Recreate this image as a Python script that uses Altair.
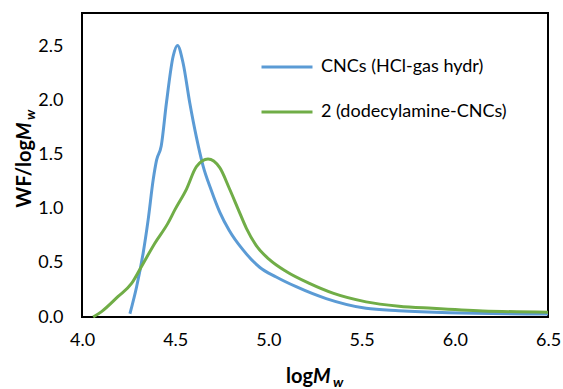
import altair as alt
import pandas as pd

# ---- data ----
series_names = ["CNCs (HCl-gas hydr)", "2 (dodecylamine-CNCs)"]
series_colors = ["#5B9BD5", "#70AD47"]

blue_x = [4.257, 4.293, 4.328, 4.355, 4.382, 4.400, 4.425, 4.453, 4.489, 4.512,
          4.542, 4.578, 4.614, 4.649, 4.694, 4.739, 4.790, 4.864, 4.953, 5.042,
          5.149, 5.310, 5.524, 5.700, 5.970, 6.500]
blue_y = [0.03, 0.28, 0.59, 0.90, 1.27, 1.45, 1.58, 1.98, 2.41, 2.51,
          2.35, 1.98, 1.66, 1.40, 1.17, 0.97, 0.80, 0.62, 0.46, 0.37,
          0.28, 0.17, 0.08, 0.058, 0.04, 0.028]

green_x = [4.060, 4.105, 4.194, 4.266, 4.320, 4.390, 4.462, 4.498, 4.560, 4.614,
           4.676, 4.739, 4.790, 4.837, 4.882, 4.935, 5.006, 5.096, 5.220, 5.346,
           5.524, 5.700, 5.880, 6.150, 6.500]
green_y = [0.00, 0.05, 0.19, 0.31, 0.47, 0.68, 0.87, 0.99, 1.18, 1.39,
           1.46, 1.38, 1.19, 1.00, 0.82, 0.66, 0.53, 0.42, 0.31, 0.22,
           0.14, 0.10, 0.08, 0.056, 0.045]

x_ticks = [4.0, 4.5, 5.0, 5.5, 6.0, 6.5]
y_ticks = [0.0, 0.5, 1.0, 1.5, 2.0, 2.5]

FONT = "Lato"

rows = []
for i, (xs, ys) in enumerate([(blue_x, blue_y), (green_x, green_y)]):
    for j, (a, b) in enumerate(zip(xs, ys)):
        rows.append({"series": series_names[i], "x": a, "y": b, "order": j})
df = pd.DataFrame(rows)

W, H = 466, 304

lines = alt.Chart(df).mark_line(strokeWidth=3, interpolate="monotone").encode(
    x=alt.X("x:Q", scale=alt.Scale(domain=[4.0, 6.5], nice=False),
            axis=alt.Axis(values=x_ticks, format=".1f", title=None, ticks=False,
                          grid=False, labelPadding=14, domain=False, labelFlush=False,
                          labelFontSize=18, labelFont=FONT, labelColor="#000")),
    y=alt.Y("y:Q", scale=alt.Scale(domain=[0, 2.81], nice=False, zero=True),
            axis=alt.Axis(values=y_ticks, format=".1f", title=None, ticks=False,
                          grid=False, labelPadding=19, domain=False, labelFlush=False,
                          labelFontSize=18, labelFont=FONT, labelColor="#000")),
    color=alt.Color("series:N",
                    scale=alt.Scale(domain=series_names, range=series_colors),
                    sort=series_names,
                    legend=alt.Legend(title=None, orient="none", legendX=178, legendY=27,
                                      symbolType="stroke", symbolSize=2600,
                                      symbolStrokeWidth=3, labelFontSize=18,
                                      labelFont=FONT, labelColor="#000", labelLimit=0,
                                      labelOffset=7, rowPadding=9, padding=0)),
    order="order:Q",
)

# composite axis titles (bold, italic M with subscript w)
xt_parts = ["log", "M", "w"]
yt_parts = ["WF/log", "M", "w"]

def txt(s, x, y, align, size, style, angle=0, baseline="alphabetic"):
    return alt.Chart(pd.DataFrame({"t": [s]})).mark_text(
        align=align, baseline=baseline, fontSize=size, font=FONT,
        fontWeight="bold", fontStyle=style, angle=angle, color="#000"
    ).encode(text="t:N", x=alt.value(x), y=alt.value(y))

titles = [
    txt(xt_parts[0], 231, 370, "right", 20, "normal"),
    txt(xt_parts[1], 231, 370, "left", 20, "italic"),
    txt(xt_parts[2], 251, 374, "left", 14, "italic"),
    txt(yt_parts[0], -51, 127, "right", 20, "normal", angle=270),
    txt(yt_parts[1], -51, 127, "left", 20, "italic", angle=270),
    txt(yt_parts[2], -47, 107, "left", 14, "italic", angle=270),
]

chart = alt.layer(lines, *titles).properties(
    width=W, height=H,
    background="white",
    autosize=alt.AutoSizeParams(type="none"),
    padding={"left": 82, "top": 13, "right": 15, "bottom": 72},
).configure_view(stroke="#000", strokeWidth=2)

chart.save("out.html", embed_options={"renderer": "svg", "actions": False})
